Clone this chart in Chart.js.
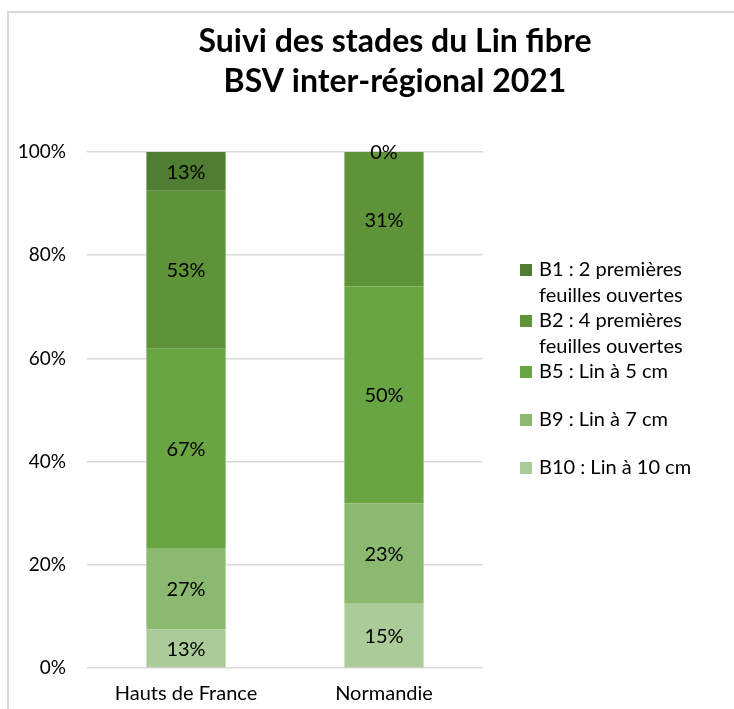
<!DOCTYPE html>
<html>
<head>
<meta charset="utf-8">
<script src="https://cdn.jsdelivr.net/npm/chart.js@4/dist/chart.umd.min.js"></script>
<style>
  html, body { margin: 0; padding: 0; background: #fff; overflow: hidden; }
  body { width: 734px; height: 709px; position: relative; }
  #frame { position: absolute; left: 7px; top: 11px; width: 800px; height: 720px;
    border-left: 2px solid #d9d9d9; border-top: 2px solid #d9d9d9; }
  canvas#myChart { position: absolute; left: 0; top: 0; }
</style>
</head>
<body>
<div id="frame"></div>
<canvas id="myChart" width="790" height="709"></canvas>
<script>
const regions = ["Hauts de France", "Normandie"];
// legend order, top to bottom
const stages = [
  "B1 : 2 premières feuilles ouvertes",
  "B2 : 4 premières feuilles ouvertes",
  "B5 : Lin à 5 cm",
  "B9 : Lin à 7 cm",
  "B10 : Lin à 10 cm",
];
const stageColors = ["#4f7d31", "#5f933a", "#6aa543", "#8ab96f", "#abcb99"];
// observed percentages per stage : [Hauts de France, Normandie]
const b1 = [13, 0];
const b2 = [53, 31];
const b5 = [67, 50];
const b9 = [27, 23];
const b10 = [13, 15];
const yTicks = [0, 20, 40, 60, 80, 100];

const FONT = "Lato";
const stageValues = [b1, b2, b5, b9, b10];

const totals = regions.map((r, i) => stageValues.reduce((acc, s) => acc + s[i], 0));

// 100% stacked: bottom dataset first (B10 ... B1)
const datasets = stages
  .map((label, k) => ({
    label: label,
    raw: stageValues[k],
    data: stageValues[k].map((v, i) => (v / totals[i]) * 100),
    backgroundColor: stageColors[k],
    borderWidth: 0,
    barPercentage: 0.8,
    categoryPercentage: 0.5,
  }))
  .reverse();

const wrapText = (ctx, text, maxWidth) => {
  const words = text.split(" ");
  let lines = [];
  let line = "";
  words.forEach((w) => {
    const test = line ? line + " " + w : w;
    if (ctx.measureText(test).width > maxWidth && line) {
      lines.push(line);
      line = w;
    } else {
      line = test;
    }
  });
  if (line) lines.push(line);
  return lines;
};

const valueLabels = {
  id: "valueLabels",
  afterDatasetsDraw(chart) {
    const ctx = chart.ctx;
    ctx.save();
    ctx.font = `20px ${FONT}`;
    ctx.fillStyle = "#000";
    ctx.textAlign = "center";
    ctx.textBaseline = "middle";
    chart.data.datasets.forEach((ds, d) => {
      chart.getDatasetMeta(d).data.forEach((bar, i) => {
        const { x, y, base } = bar.getProps(["x", "y", "base"], true);
        ctx.fillText(`${ds.raw[i]}%`, x, (y + base) / 2 + 1);
      });
    });
    ctx.restore();
  },
};

const sideLegend = {
  id: "sideLegend",
  afterDraw(chart) {
    const ctx = chart.ctx;
    const area = chart.chartArea;
    const boxX = area.right + 37;
    const textX = boxX + 19;
    const lineH = 25.5;
    let y = area.top + 118;
    ctx.save();
    ctx.font = `20px ${FONT}`;
    ctx.textBaseline = "middle";
    ctx.textAlign = "left";
    stages.forEach((label, k) => {
      const lines = wrapText(ctx, label, 175);
      ctx.fillStyle = stageColors[k];
      ctx.fillRect(boxX, y - 6, 12, 12);
      ctx.fillStyle = "#000";
      lines.forEach((l, j) => ctx.fillText(l, textX, y + j * lineH));
      y += Math.max(lines.length * lineH, 48);
    });
    ctx.restore();
  },
};

const config = {
  type: "bar",
  data: { labels: regions, datasets: datasets },
  options: {
    responsive: false,
    animation: false,
    layout: { padding: 0 },
    plugins: {
      legend: { display: false },
      tooltip: { enabled: false },
      title: {
        display: true,
        text: ["Suivi des stades du Lin fibre", "BSV inter-régional 2021"],
        color: "#000",
        font: { family: FONT, weight: "bold", size: 32, lineHeight: 40 / 32 },
        padding: { top: 22, bottom: 50 },
      },
    },
    scales: {
      x: {
        stacked: true,
        grid: { display: false, drawTicks: false },
        border: { display: false },
        ticks: { color: "#000", font: { family: FONT, size: 20 }, padding: 14 },
        afterFit: (scale) => {
          scale.height = 41;
        },
      },
      y: {
        stacked: true,
        min: 0,
        max: 100,
        grid: { color: "#d9d9d9", lineWidth: 1.5, drawTicks: false },
        border: { display: false },
        afterBuildTicks: (scale) => {
          scale.ticks = yTicks.map((v) => ({ value: v }));
        },
        ticks: {
          color: "#000",
          font: { family: FONT, size: 19 },
          padding: 21,
          callback: (v) => `${v}%`,
        },
        afterFit: (scale) => {
          scale.width = 87;
        },
      },
      legendSpace: {
        position: "right",
        display: true,
        grid: { display: false, drawTicks: false },
        border: { display: false },
        ticks: { display: false },
        afterFit: (scale) => {
          scale.width = 307;
        },
      },
    },
  },
  plugins: [valueLabels, sideLegend],
};

const ctx = document.querySelector("canvas#myChart").getContext("2d");
const myChart = new Chart(ctx, config);
</script>
</body>
</html>
